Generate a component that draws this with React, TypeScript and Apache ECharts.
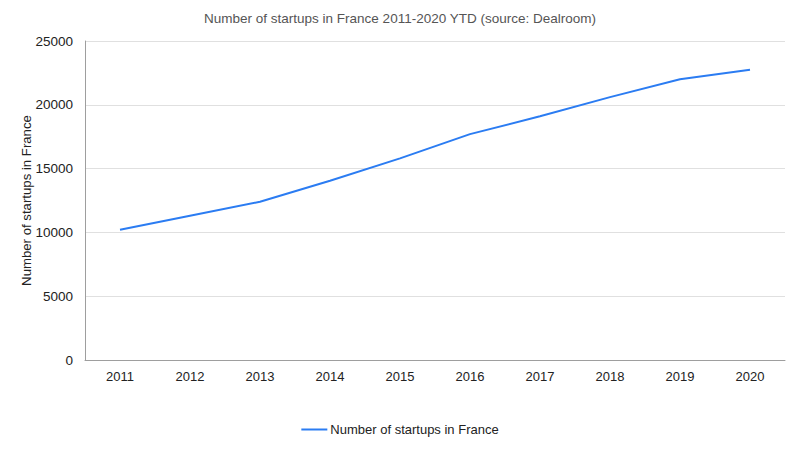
import React, { useEffect, useRef } from 'react';
import * as echarts from 'echarts';

const years = ['2011', '2012', '2013', '2014', '2015', '2016', '2017', '2018', '2019', '2020'];
const startups = [10200, 11300, 12400, 14050, 15800, 17700, 19100, 20600, 22000, 22750];
const seriesName = 'Number of startups in France';
const chartTitle = 'Number of startups in France 2011-2020 YTD (source: Dealroom)';

const FONT = '"Liberation Sans", Arial, sans-serif';

const App: React.FC = () => {
  const chartRef = useRef<HTMLDivElement>(null);

  useEffect(() => {
    if (!chartRef.current) return;
    const chart = echarts.init(chartRef.current, undefined, { renderer: 'svg' });

    const option: any = {
      animation: false,
      backgroundColor: '#ffffff',
      textStyle: { fontFamily: FONT },
      title: {
        text: chartTitle,
        left: 'center',
        top: 6,
        textStyle: { fontFamily: FONT, fontSize: 13.5, fontWeight: 'normal', color: '#555555' }
      },
      grid: { left: 85, right: 15, top: 41, bottom: 89, containLabel: false },
      legend: {
        bottom: 8,
        left: 'center',
        icon: 'rect',
        itemWidth: 26,
        itemHeight: 2,
        itemGap: 3,
        textStyle: { fontFamily: FONT, fontSize: 13, color: '#222222', padding: [0, 0, 0, -2] },
        data: [seriesName]
      },
      xAxis: {
        type: 'category',
        data: years,
        boundaryGap: true,
        axisLine: { lineStyle: { color: '#9e9e9e', width: 1 } },
        axisTick: { show: false },
        axisLabel: { fontFamily: FONT, fontSize: 13, color: '#222222', margin: 10 },
        splitLine: { show: false }
      },
      yAxis: {
        type: 'value',
        min: 0,
        max: 25000,
        interval: 5000,
        name: seriesName,
        nameLocation: 'middle',
        nameGap: 52,
        nameMoveOverlap: false,
        nameTextStyle: { fontFamily: FONT, fontSize: 13.2, color: '#222222' },
        axisLine: { show: true, lineStyle: { color: '#9e9e9e', width: 1 } },
        axisTick: { show: false },
        axisLabel: {
          fontFamily: FONT,
          fontSize: 13.5,
          color: '#222222',
          margin: 12,
          formatter: (v: number) => String(v)
        },
        splitLine: { lineStyle: { color: '#e0e0e0', width: 1 } }
      },
      series: [
        {
          name: seriesName,
          type: 'line',
          data: startups,
          showSymbol: false,
          symbol: 'none',
          lineStyle: { color: '#2b7cf2', width: 2 },
          itemStyle: { color: '#2b7cf2' }
        }
      ]
    };

    chart.setOption(option);
    return () => chart.dispose();
  }, []);

  return (
    <div
      ref={chartRef}
      style={{ position: 'fixed', left: 0, top: 0, width: '800px', height: '449px' }}
    />
  );
};

export default App;
